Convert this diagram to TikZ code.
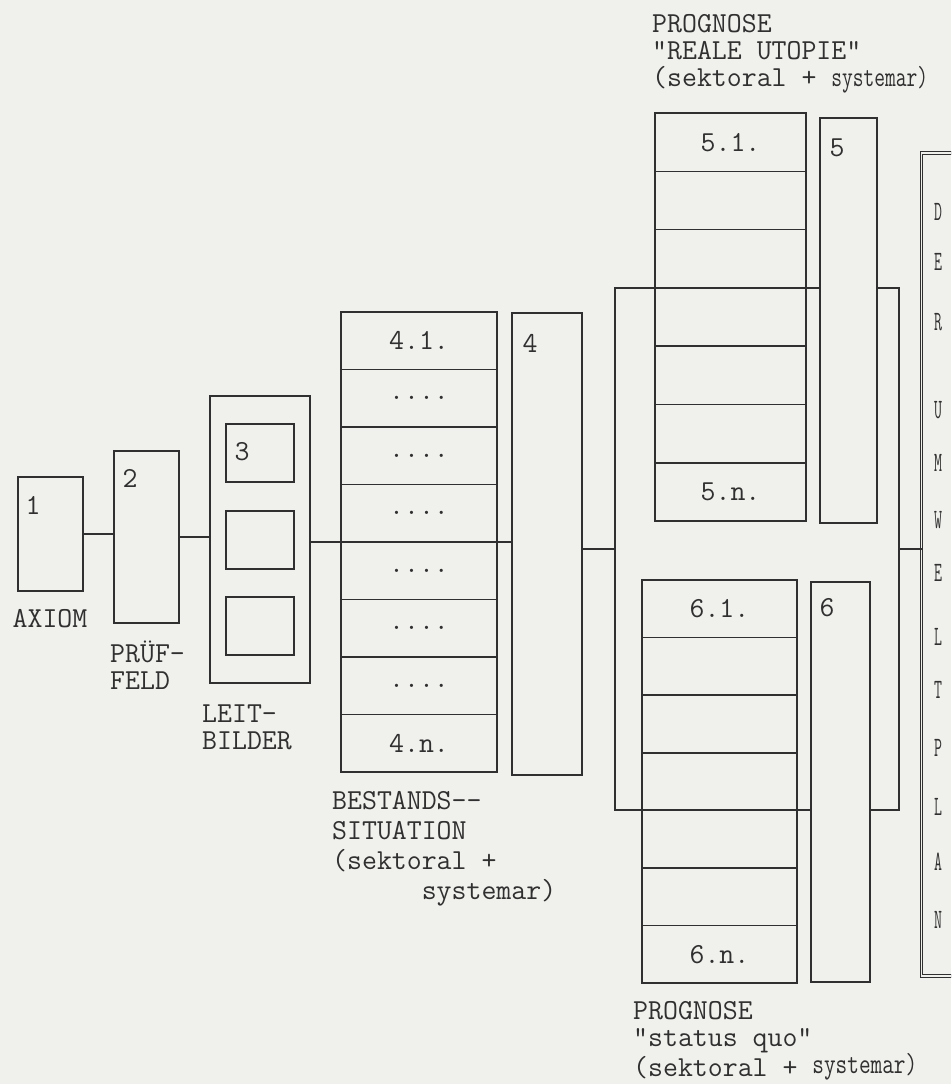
\documentclass[tikz,border=0pt]{standalone}
\usepackage{fontspec}
\definecolor{paper}{RGB}{240,240,236}
\definecolor{ink}{RGB}{48,48,48}
\tikzset{
  box/.style={draw=ink, line width=1.5pt, inner sep=0pt, outer sep=0pt},
  papbox/.style={box, fill=paper},
  conn/.style={draw=ink, line width=1.5pt},
  txt/.style={font=\ttfamily\fontsize{29}{28}\selectfont, text=ink, inner sep=0pt},
  lbl/.style={txt, align=left, anchor=north west},
  strip/.style={draw=ink, double=paper, double distance=1.6pt, line width=1.1pt, inner sep=0pt, outer sep=0pt},
  letter/.style={font=\ttfamily\fontsize{28}{28}\selectfont, text=ink, inner sep=0pt}
}
\newcommand{\narrow}[1]{\scalebox{0.55}[1]{#1}}
\begin{document}
\begin{tikzpicture}[x=1pt,y=-1pt]
\fill[paper] (0,0) rectangle (951,1084);
\useasboundingbox (0,0) rectangle (951,1084);
\clip (0,0) rectangle (951,1084);

% 1: AXIOM
\node[box, minimum width=65pt, minimum height=114pt] (b1) at (50.5,534) {};
\node[txt] (n1) at (33,505) {1};
\node[txt] (l1) at (50,619) {AXIOM};

% 2: PRUEFFELD
\node[box, minimum width=65pt, minimum height=172pt] (b2) at (146.5,537) {};
\node[txt] (n2) at (130,478) {2};
\node[lbl, font=\ttfamily\fontsize{29}{27}\selectfont] (l2) at (110,641) {PRÜF-\\FELD};

% 3: LEITBILDER
\node[box, minimum width=100pt, minimum height=287pt] (b3) at (260,539.5) {};
\node[box, minimum width=68pt, minimum height=58pt] (b3a) at (260,453) {};
\node[box, minimum width=68pt, minimum height=58pt] (b3b) at (260,540) {};
\node[box, minimum width=68pt, minimum height=58pt] (b3c) at (260,626) {};
\node[txt] (n3) at (242,452) {3};
\node[lbl, font=\ttfamily\fontsize{29}{27}\selectfont] (l3) at (202,705) {LEIT-\\BILDER};

% 4.x column
\foreach \i in {1,...,8} {
  \node[box, minimum width=156pt, minimum height=57.5pt] (c4-\i) at (419,{312+57.5*(\i-0.5)}) {};
}
\node[txt] (t41) at (c4-1) {4.1.};
\node[txt] (t42) at (c4-2) {....};
\node[txt] (t43) at (c4-3) {....};
\node[txt] (t44) at (c4-4) {....};
\node[txt] (t45) at (c4-5) {....};
\node[txt] (t46) at (c4-6) {....};
\node[txt] (t47) at (c4-7) {....};
\node[txt] (t4n) at (c4-8) {4.n.};

% 4 column
\node[box, minimum width=70pt, minimum height=462pt] (b4) at (547,544) {};
\node[txt] (n4) at (530,343) {4};
\node[lbl, font=\ttfamily\fontsize{29}{30}\selectfont] (l4) at (332,791) {BESTANDS--\\SITUATION\\(sektoral +\\\phantom{xxxxxx}systemar)};

% big box
\node[box, minimum width=284pt, minimum height=522pt] (big) at (757,549) {};

% 5.x column
\foreach \i in {1,...,7} {
  \node[box, minimum width=151pt, minimum height=58.3pt] (c5-\i) at (730.5,{113+58.3*(\i-0.5)}) {};
}
\node[txt] (t51) at (c5-1) {5.1.};
\node[txt] (t5n) at (c5-7) {5.n.};
\node[papbox, minimum width=57pt, minimum height=405pt] (b5) at (848.5,320.5) {};
\node[txt] (n5) at (837,148) {5};

% 6.x column
\foreach \i in {1,...,7} {
  \node[box, minimum width=155pt, minimum height=57.6pt] (c6-\i) at (719.5,{580+57.6*(\i-0.5)}) {};
}
\node[txt] (t61) at (c6-1) {6.1.};
\node[txt] (t6n) at (c6-7) {6.n.};
\node[papbox, minimum width=59pt, minimum height=400pt] (b6) at (840.5,782) {};
\node[txt] (n6) at (827,608) {6};

% prognosis labels
\node[lbl, font=\ttfamily\fontsize{29}{27}\selectfont] (ltop) at (652,14) {PROGNOSE\\"REALE UTOPIE"\\(sektoral + \scalebox{0.72}[1]{systemar)}};
\node[lbl, font=\ttfamily\fontsize{29}{27}\selectfont] (lbot) at (633,1001) {PROGNOSE\\"status quo"\\(sektoral + \raisebox{3pt}{\scalebox{0.78}[1]{systemar)}}};

% strip DER UMWELTPLAN
\node[strip, minimum width=54pt, minimum height=823pt] (st) at (948.5,564.5) {};
\foreach \c/\y in {D/212,E/262,R/322,U/410,M/463,W/520,E/573,L/637,T/690,P/748,L/807,A/862,N/920} {
  \node[letter] at (938,\y) {\narrow{\c}};
}

% connectors
\draw[conn] (b1.east) -- (b1.east -| b2.west);
\draw[conn] (b2.east) -- (b2.east -| b3.west);
\draw[conn] (b3.east |- c4-5.north) -- (c4-5.north -| b4.west);
\draw[conn] (big.west) -- (big.west -| b4.east);
\draw[conn] (big.east) -- (big.east -| st.west);
\end{tikzpicture}
\end{document}
